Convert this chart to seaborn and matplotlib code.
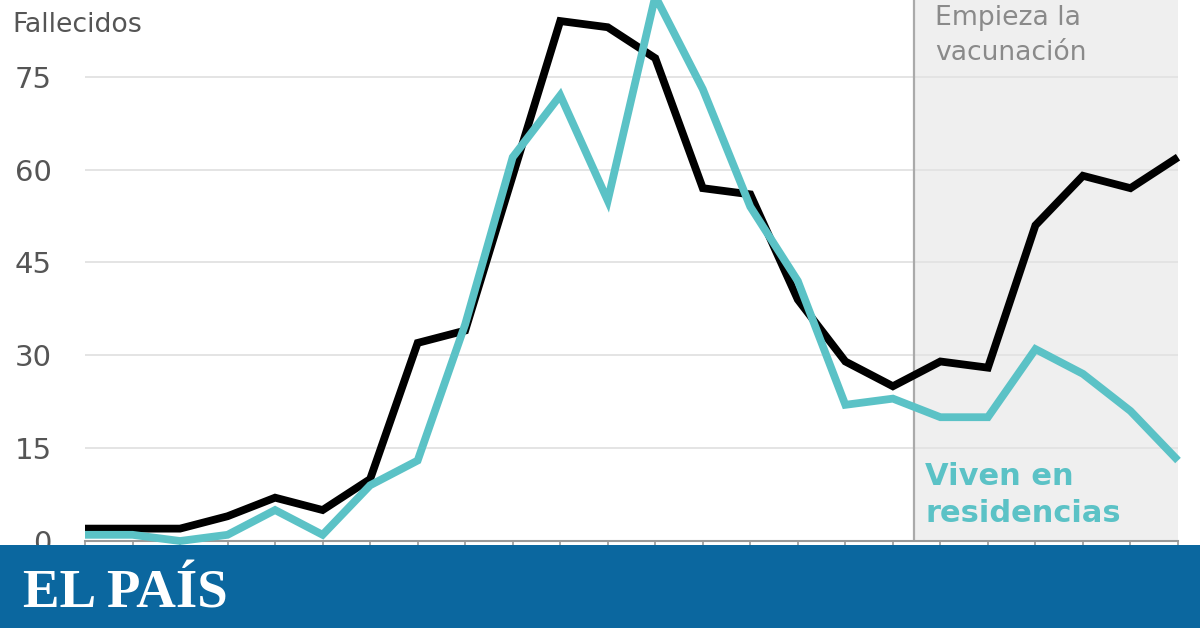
import matplotlib.pyplot as plt
import pandas as pd
import seaborn as sns
from matplotlib.patches import Rectangle

# datos (fallecidos por semana)
semanas = list(range(24))
total = [2, 2, 2, 4, 7, 5, 10, 32, 34, 59, 84, 83, 78, 57, 56, 39, 29, 25, 29, 28, 51, 59, 57, 62]
residencias = [1, 1, 0, 1, 5, 1, 9, 13, 35, 62, 72, 55, 88, 73, 54, 42, 22, 23, 20, 20, 31, 27, 21, 13]
inicio_vacunacion = 17.45
yticks = [0, 15, 30, 45, 60, 75]

df = pd.DataFrame({'semana': semanas, 'total': total, 'residencias': residencias})

sns.set_style('white')
plt.rcParams['font.family'] = ['DejaVu Sans']

TEAL = '#5bc2c6'
GRIS_TXT = '#555555'

fig = plt.figure(figsize=(12, 6.28), dpi=100)
ax = fig.add_axes([85 / 1200, 87 / 628, 1093 / 1200, 541 / 628])

# zona de vacunacion
ax.axvspan(inicio_vacunacion, semanas[-1], color='#efefef', zorder=0, lw=0)
ax.axvline(inicio_vacunacion, color='#aaaaaa', lw=1.6, zorder=1)

for y in yticks[1:]:
    ax.axhline(y, color='#e2e2e2', lw=1.3, zorder=0.5)

sns.lineplot(data=df, x='semana', y='total', ax=ax, color='black', lw=5.6,
             clip_on=False, zorder=3)
sns.lineplot(data=df, x='semana', y='residencias', ax=ax, color=TEAL, lw=5.6,
             clip_on=False, zorder=4)
for l in ax.lines[-2:]:
    l.set_solid_joinstyle('miter')
    l.set_solid_capstyle('butt')

ax.set_xlim(semanas[0], semanas[-1])
ax.set_ylim(0, 87.4)
ax.set_xlabel('')
ax.set_ylabel('')

ax.set_xticks(semanas)
ax.set_xticklabels([])
ax.tick_params(axis='x', length=5, width=1.2, color='#999999', direction='out', bottom=True)
ax.set_yticks(yticks)
ax.set_yticklabels([str(v) for v in yticks])
ax.tick_params(axis='y', length=0, pad=24, labelsize=21, labelcolor=GRIS_TXT)

for s in ['top', 'right', 'left']:
    ax.spines[s].set_visible(False)
ax.spines['bottom'].set_color('#999999')
ax.spines['bottom'].set_linewidth(1.5)
ax.patch.set_alpha(0)

# textos
fig.text(12 / 1200, 1 - 32 / 628, 'Fallecidos', fontsize=19.3, color=GRIS_TXT, va='baseline')
fig.text(935 / 1200, 1 - 25 / 628, 'Empieza la', fontsize=19.2, color='#8a8a8a', va='baseline')
fig.text(935 / 1200, 1 - 60 / 628, 'vacunación', fontsize=19.2, color='#8a8a8a', va='baseline')
fig.text(925 / 1200, 1 - 485 / 628, 'Viven en', fontsize=22, color=TEAL,
         fontweight='bold', va='baseline')
fig.text(925 / 1200, 1 - 522 / 628, 'residencias', fontsize=22, color=TEAL,
         fontweight='bold', va='baseline')

# banda inferior
fig.patches.append(Rectangle((0, 0), 1, 83 / 628, transform=fig.transFigure,
                             facecolor='#0b679f', edgecolor='none', zorder=10))
fig.text(23 / 1200, 21 / 628, 'EL PAÍS', fontsize=39.5, color='white', fontweight='bold',
         family=['Liberation Serif', 'DejaVu Serif'], va='baseline', zorder=11)

fig.savefig('out.png', dpi=100)
